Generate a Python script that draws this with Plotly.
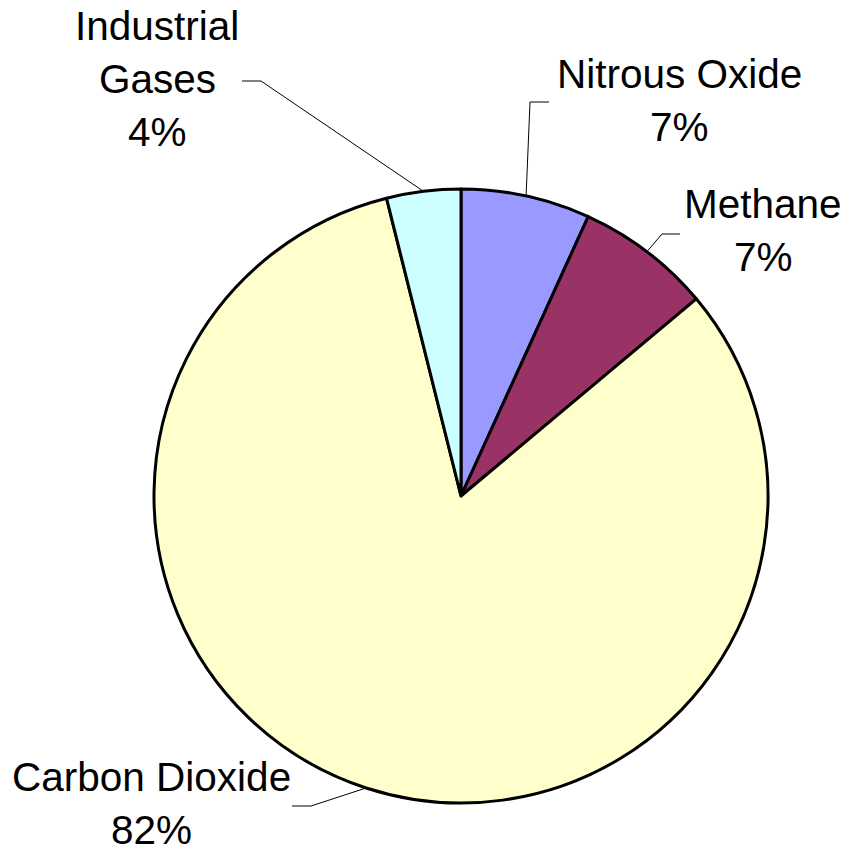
import numpy as np
import plotly.graph_objects as go

# ---- data ----
labels = ["Nitrous Oxide", "Methane", "Carbon Dioxide", "Industrial Gases"]
values = [6.8, 7.1, 82.2, 3.9]
colors = ["#9999FF", "#993366", "#FFFFCC", "#CCFFFF"]
label_lines = [["Nitrous Oxide"], ["Methane"], ["Carbon Dioxide"], ["Industrial", "Gases"]]

# page body has an 8px margin, so the figure is drawn 8px in from the window corner
OFF = 8
W, H = 848 - 2 * OFF, 846
CX, CY, R = 461, 496, 307  # pie centre / radius in window pixels (layout)

def px(x):
    return (x - OFF) / W

def py(y):
    return 1 - (y - OFF) / H

fig = go.Figure(go.Pie(
    labels=labels, values=values, sort=False, direction="clockwise", rotation=0,
    marker=dict(colors=colors, line=dict(color="black", width=3)),
    textinfo="none", hoverinfo="label+percent", showlegend=False,
    domain=dict(x=[px(CX - R), px(CX + R)], y=[py(CY + R), py(CY - R)]),
))

# ---- label layout (pixel positions: centre x, first-line cap centre y, line step) ----
label_pos = [(679, 74), (763, 204), (151, 777), (157, 26)]
line_step = 53
# leader line: elbow point and horizontal end (pixels)
leader = [((530, 102), (549, 102)),
          ((662, 234), (680, 234)),
          ((311, 806), (292, 806)),
          ((261, 81), (242, 81))]

font = dict(family="Liberation Sans, Arial, sans-serif", size=40.5, color="black")
total = float(np.sum(values))
cum = np.cumsum([0] + values)
annotations = []
shapes = []
for i, name in enumerate(labels):
    pct = f"{round(values[i] / total * 100):.0f}%"
    lines = label_lines[i] + [pct]
    x0, y0 = label_pos[i]
    for j, t in enumerate(lines):
        annotations.append(dict(text=t, x=px(x0), y=py(y0 + j * line_step), xref="paper", yref="paper",
                                xanchor="center", yanchor="middle", showarrow=False, font=font))
    mid = (cum[i] + cum[i + 1]) / 2 / total * 2 * np.pi
    ex, ey = CX + R * np.sin(mid), CY - R * np.cos(mid)
    (bx, by), (hx, hy) = leader[i]
    shapes.append(dict(type="path", xref="paper", yref="paper",
                       path=f"M {px(ex)},{py(ey)} L {px(bx)},{py(by)} L {px(hx)},{py(hy)}",
                       line=dict(color="black", width=1)))

fig.update_layout(width=W, height=H, margin=dict(l=0, r=0, t=0, b=0),
                  paper_bgcolor="white", plot_bgcolor="white",
                  annotations=annotations, shapes=shapes)
fig.write_html("out.html")
